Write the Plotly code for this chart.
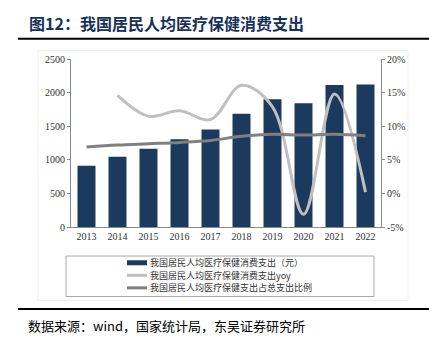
import plotly.graph_objects as go

W, H = 429, 346

years = ["2013", "2014", "2015", "2016", "2017", "2018", "2019", "2020", "2021", "2022"]
spending = [912, 1045, 1165, 1307, 1451, 1685, 1902, 1843, 2115, 2120]
yoy_years = years[1:]
yoy = [14.6, 11.5, 12.3, 11.0, 16.1, 12.9, -3.1, 14.8, 0.2]
share = [6.9, 7.2, 7.4, 7.6, 7.9, 8.5, 8.8, 8.7, 8.8, 8.6]

left_ticks = [0, 500, 1000, 1500, 2000, 2500]
right_ticks = [-5, 0, 5, 10, 15, 20]
right_labels = ["-5%", "0%", "5%", "10%", "15%", "20%"]

names = ["我国居民人均医疗保健消费支出（元）",
         "我国居民人均医疗保健消费支出yoy",
         "我国居民人均医疗保健支出占总支出比例"]

BAR = "#1b3a5e"
YOY = "#c0c0c0"
SHR = "#808080"
TXT = "#333333"
SERIF = "Liberation Serif, Times New Roman, Noto Sans CJK SC, serif"
CJK = "Noto Sans CJK SC, Liberation Serif, serif"

def px(x):
    return x / W

def py(y):
    return 1 - y / H

fig = go.Figure()
fig.add_trace(go.Bar(x=years, y=spending, name=names[0], marker=dict(color=BAR, line=dict(width=0)),
                     width=0.58, yaxis="y"))
fig.add_trace(go.Scatter(x=yoy_years, y=yoy, name=names[1], mode="lines",
                         line=dict(color=YOY, width=3, shape="spline", smoothing=1.0), yaxis="y2"))
fig.add_trace(go.Scatter(x=years, y=share, name=names[2], mode="lines",
                         line=dict(color=SHR, width=3, shape="spline", smoothing=1.0), yaxis="y2"))

shapes = [
    dict(type="rect", xref="paper", yref="paper", x0=px(38), x1=px(408), y0=py(305), y1=py(46),
         line=dict(color="#eeeeee", width=1)),
    dict(type="line", xref="paper", yref="paper", x0=px(18), x1=1, y0=py(34), y1=py(34),
         line=dict(color="#000000", width=2)),
    dict(type="line", xref="paper", yref="paper", x0=px(18), x1=1, y0=py(314), y1=py(314),
         line=dict(color="#000000", width=2)),
    dict(type="rect", xref="paper", yref="paper", x0=px(66), x1=px(374), y0=py(301), y1=py(259),
         line=dict(color="#a6a6a6", width=1)),
]
annotations = [
    dict(text="<b>图12：我国居民人均医疗保健消费支出</b>", xref="paper", yref="paper",
         x=px(27), y=py(18), xanchor="left", yanchor="middle", showarrow=False,
         font=dict(family=CJK, size=16, color="#17325a")),
    dict(text="数据来源：wind，国家统计局，东吴证券研究所", xref="paper", yref="paper",
         x=px(26), y=py(331), xanchor="left", yanchor="middle", showarrow=False,
         font=dict(family=CJK, size=13, color="#000000")),
]
leg_rows = [266, 279, 292]
leg_styles = [(BAR, 5), (YOY, 3), (SHR, 3)]
for nm, yrow, (col, wd) in zip(names, leg_rows, leg_styles):
    shapes.append(dict(type="line", xref="paper", yref="paper", x0=px(127), x1=px(147),
                       y0=py(yrow), y1=py(yrow), line=dict(color=col, width=wd)))
    annotations.append(dict(text=nm, xref="paper", yref="paper", x=px(148), y=py(yrow),
                            xanchor="left", yanchor="middle", showarrow=False,
                            font=dict(family=CJK, size=9, color=TXT)))

axis_common = dict(showgrid=False, zeroline=False, showline=True, linecolor="#898989",
                   linewidth=1, tickfont=dict(family=SERIF, size=10, color=TXT))

fig.update_layout(
    width=W, height=H, margin=dict(l=0, r=0, t=0, b=0),
    paper_bgcolor="white", plot_bgcolor="white", showlegend=False,
    xaxis=dict(domain=[px(71), px(381)], range=[-0.5, 9.5], type="category",
               ticks="", anchor="y", **axis_common),
    yaxis=dict(domain=[py(229), py(55)], range=[0, 2500], tickvals=left_ticks,
               ticks="outside", ticklen=3, tickcolor="#898989", anchor="x", **axis_common),
    yaxis2=dict(overlaying="y", side="right", range=[-5, 20], tickmode="array",
                tickvals=right_ticks, ticktext=right_labels,
                ticks="outside", ticklen=3, tickcolor="#898989",
                anchor="x", **axis_common),
    shapes=shapes, annotations=annotations,
)

fig.write_html("out.html")
